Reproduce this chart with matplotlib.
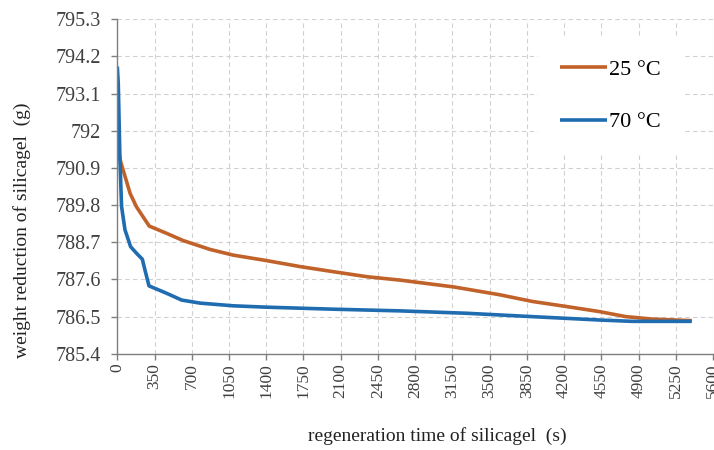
import numpy as np
import matplotlib
matplotlib.use("Agg")
import matplotlib.pyplot as plt

# regeneration time (s) and weight of silicagel (g) for each temperature
t_25 = [0, 30, 120, 180, 300, 460, 620, 870, 1090, 1400, 1720, 2030, 2350,
        2660, 3160, 3590, 3900, 4220, 4530, 4780, 5020, 5400]
w_25 = [791.6, 791.1, 790.15, 789.75, 789.18, 788.97, 788.75, 788.49, 788.32,
        788.16, 787.98, 787.83, 787.68, 787.58, 787.38, 787.15, 786.95, 786.8,
        786.65, 786.5, 786.43, 786.38]

t_70 = [0, 9, 25, 40, 72, 125, 182, 235, 260, 298, 464, 605, 778, 1090, 1400,
        2030, 2660, 3280, 3900, 4530, 4840, 5400]
w_70 = [793.9, 793.4, 791.1, 789.76, 789.07, 788.57, 788.37, 788.2, 787.88,
        787.41, 787.19, 786.99, 786.9, 786.82, 786.78, 786.72, 786.67, 786.6,
        786.5, 786.4, 786.36, 786.36]

x_ticks = np.arange(0, 5601, 350)
y_ticks = [785.4, 786.5, 787.6, 788.7, 789.8, 790.9, 792, 793.1, 794.2, 795.3]

plt.rcParams['font.family'] = ['Liberation Serif', 'DejaVu Serif']

fig = plt.figure(figsize=(7.14, 4.5), dpi=100)
ax = fig.add_axes([0.1643, 0.2138, 0.8343, 0.7433])

ax.plot(t_25, w_25, color='#C0622A', lw=2.6, label='25 °C', solid_capstyle='butt')
ax.plot(t_70, w_70, color='#1F6CB0', lw=2.6, label='70 °C', solid_capstyle='butt')

ax.set_xlim(0, 5600)
ax.set_ylim(785.4, 795.3)
ax.set_xticks(x_ticks)
ax.set_xticklabels([str(v) for v in x_ticks], rotation=90, fontsize=12.5)
ax.set_yticks(y_ticks)
ax.set_yticklabels([f"{v:g}" for v in y_ticks], fontsize=14.5)

ax.grid(True, color='#D0D0D0', linestyle=(0, (4, 3)), linewidth=0.8)
ax.set_axisbelow(True)
for side in ['top', 'right']:
    ax.spines[side].set_visible(False)
for side in ['left', 'bottom']:
    ax.spines[side].set_color('#7F7F7F')
    ax.spines[side].set_linewidth(1.0)
ax.tick_params(axis='both', colors='#7F7F7F', length=4, width=1.0, labelcolor='#404040')
ax.tick_params(axis='y', pad=8)
ax.tick_params(axis='x', pad=3)

ax.set_xlabel('regeneration time of silicagel  (s)', fontsize=14, color='#222222')
ax.set_ylabel('weight reduction of silicagel  (g)', fontsize=14, color='#222222')
ax.xaxis.set_label_coords(0.537, -0.218)
ax.yaxis.set_label_coords(-0.1445, 0.37)

leg = ax.legend(loc='upper left', bbox_to_anchor=(0.706, 0.947), frameon=True,
                fontsize=16, handlelength=2.1, handletextpad=0.1,
                labelspacing=1.44, borderpad=1.0, borderaxespad=0.0)
leg.get_frame().set_edgecolor('none')
leg.get_frame().set_facecolor('white')
leg.get_frame().set_alpha(1.0)

fig.savefig('out.png', dpi=100)
